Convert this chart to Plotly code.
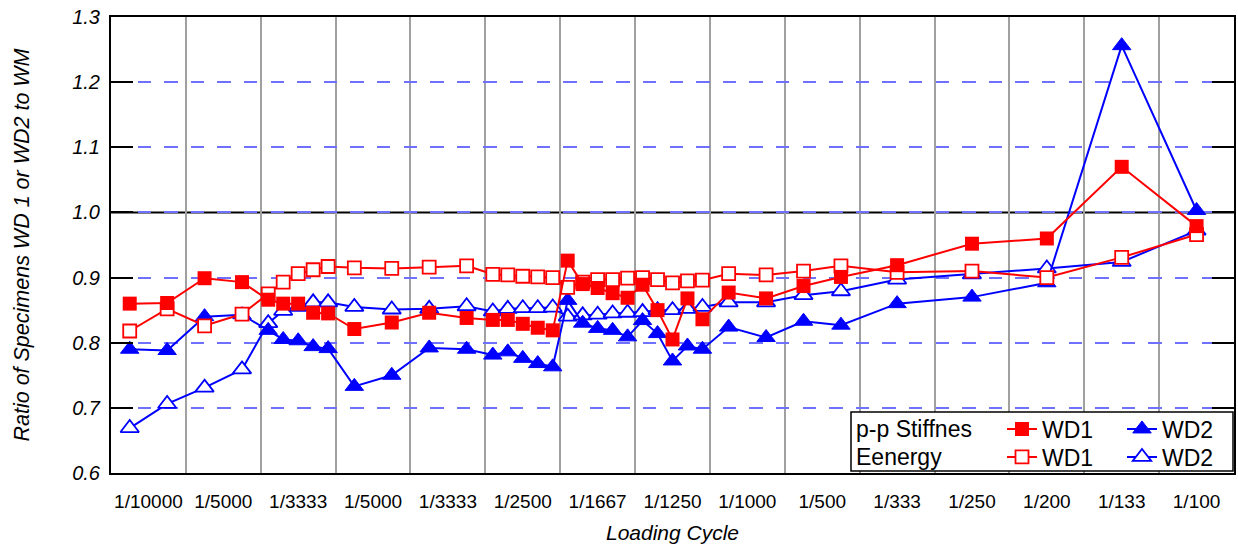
import plotly.graph_objects as go

# ---- data ----
cycle_labels = ["1/10000", "1/5000", "1/3333", "1/5000", "1/3333", "1/2500", "1/1667",
                "1/1250", "1/1000", "1/500", "1/333", "1/250", "1/200", "1/133", "1/100"]

x_pos = [-0.25, 0.25, 0.75, 1.25, 1.6, 1.8, 2.0, 2.2, 2.4, 2.75, 3.25, 3.75, 4.25,
         4.6, 4.8, 5.0, 5.2, 5.4, 5.6, 5.8, 6.0, 6.2, 6.4, 6.6, 6.8, 7.0, 7.2, 7.4,
         7.75, 8.25, 8.75, 9.25, 10, 11, 12, 13, 14]

wd1_stiff = [0.860, 0.861, 0.899, 0.893, 0.866, 0.860, 0.860, 0.846, 0.845, 0.821, 0.831,
             0.846, 0.838, 0.835, 0.835, 0.829, 0.823, 0.819, 0.926, 0.890, 0.884, 0.876,
             0.869, 0.889, 0.850, 0.805, 0.868, 0.836, 0.877, 0.868, 0.887, 0.901, 0.919,
             0.952, 0.960, 1.070, 0.979]

wd1_energy = [0.818, 0.852, 0.826, 0.844, 0.875, 0.893, 0.906, 0.912, 0.917, 0.915, 0.914,
              0.916, 0.918, 0.905, 0.904, 0.902, 0.901, 0.900, 0.885, 0.893, 0.897, 0.897,
              0.899, 0.900, 0.897, 0.892, 0.895, 0.896, 0.906, 0.904, 0.910, 0.918, 0.908,
              0.910, 0.900, 0.931, 0.966]

wd2_stiff = [0.790, 0.788, 0.840, 0.843, 0.819, 0.805, 0.803, 0.794, 0.791, 0.733, 0.750,
             0.792, 0.790, 0.781, 0.786, 0.776, 0.768, 0.763, 0.865, 0.830, 0.822, 0.819,
             0.809, 0.834, 0.814, 0.772, 0.795, 0.790, 0.824, 0.808, 0.833, 0.827, 0.860,
             0.870, 0.892, 1.256, 1.003]

wd2_energy = [0.669, 0.706, 0.731, 0.759, 0.830, 0.849, 0.855, 0.862, 0.862, 0.855, 0.851,
              0.852, 0.856, 0.848, 0.852, 0.853, 0.853, 0.854, 0.840, 0.842, 0.843, 0.845,
              0.846, 0.847, 0.850, 0.850, 0.852, 0.855, 0.862, 0.862, 0.873, 0.879, 0.897,
              0.905, 0.914, 0.924, 0.972]

y_ticks = [0.6, 0.7, 0.8, 0.9, 1.0, 1.1, 1.2, 1.3]

RED = "#ff0000"
BLUE = "#0000ff"
FONT = "Liberation Sans, Arial, sans-serif"

fig = go.Figure()

# draw order: WD2 energy, WD2 stiffness, WD1 energy, WD1 stiffness
fig.add_trace(go.Scatter(
    x=x_pos, y=wd2_energy, mode="lines+markers", name="WD2", legend="legend4",
    line=dict(color=BLUE, width=2),
    marker=dict(symbol="triangle-up", size=16, color="white", line=dict(color=BLUE, width=1.8))))
fig.add_trace(go.Scatter(
    x=x_pos, y=wd2_stiff, mode="lines+markers", name="WD2", legend="legend3",
    line=dict(color=BLUE, width=2),
    marker=dict(symbol="triangle-up", size=16, color=BLUE, line=dict(color=BLUE, width=1))))
fig.add_trace(go.Scatter(
    x=x_pos, y=wd1_energy, mode="lines+markers", name="WD1", legend="legend2",
    line=dict(color=RED, width=2),
    marker=dict(symbol="square", size=13, color="white", line=dict(color=RED, width=1.8))))
fig.add_trace(go.Scatter(
    x=x_pos, y=wd1_stiff, mode="lines+markers", name="WD1", legend="legend",
    line=dict(color=RED, width=2),
    marker=dict(symbol="square", size=14, color=RED, line=dict(color=RED, width=0))))

# plot area on screen: x 111..1234, y 17..473
W, H = 1238, 544
L, R, T, B = 111, 4, 17, 71
pw, ph = W - L - R, H - T - B


def px2x(px):  # screen px -> paper x
    return (px - L) / pw


def py2y(py):  # screen px -> paper y
    return (H - B - py) / ph


leg_common = dict(bgcolor="rgba(0,0,0,0)", borderwidth=0, xanchor="left", yanchor="middle",
                  font=dict(family=FONT, size=23, color="black"), itemclick=False)

row1, row2 = py2y(429), py2y(457)
col1, col2 = px2x(1002), px2x(1122)

fig.update_layout(
    width=W, height=H, autosize=False,
    margin=dict(l=L, r=R, t=T, b=B, pad=0, autoexpand=False),
    paper_bgcolor="white", plot_bgcolor="white",
    font=dict(family=FONT, color="black"),
    showlegend=True,
    legend=dict(x=col1, y=row1, **leg_common),
    legend2=dict(x=col1, y=row2, **leg_common),
    legend3=dict(x=col2, y=row1, **leg_common),
    legend4=dict(x=col2, y=row2, **leg_common),
    xaxis=dict(
        range=[-0.5, 14.5], tickmode="array", tickvals=list(range(len(cycle_labels))),
        ticktext=cycle_labels, ticks="", showgrid=False, zeroline=False, automargin=False,
        showline=True, linecolor="black", linewidth=2, mirror=True,
        tickfont=dict(family=FONT, size=19, color="black"), ticklabelstandoff=10,
        minor=dict(tickvals=[i + 0.5 for i in range(len(cycle_labels) - 1)], showgrid=True,
                   gridcolor="#a0a0a0", gridwidth=2, ticks=""),
        title=dict(text="Loading Cycle", standoff=17,
                   font=dict(family=FONT, size=21, color="black", style="italic")),
    ),
    yaxis=dict(
        range=[0.6, 1.3], tickmode="array", tickvals=y_ticks, tickformat=".1f",
        ticks="inside", ticklen=22, tickwidth=2, tickcolor="black", automargin=False,
        showline=True, linecolor="black", linewidth=2, mirror="ticks", zeroline=False,
        showgrid=True, gridcolor="#7070ff", gridwidth=1.5, griddash="13.3px,13.3px",
        tickfont=dict(family=FONT, size=20, color="black", style="italic"),
        ticklabelstandoff=5, ticklabeloverflow="allow",
        title=dict(text="Ratio of Specimens WD 1 or WD2 to WM", standoff=37,
                   font=dict(family=FONT, size=21.5, color="black", style="italic")),
    ),
    shapes=[
        dict(type="line", xref="paper", x0=0, x1=1, yref="y", y0=1.0, y1=1.0,
             line=dict(color="black", width=2), layer="between"),
        dict(type="rect", xref="paper", yref="paper",
             x0=px2x(851), x1=px2x(1233), y0=py2y(471), y1=py2y(412),
             fillcolor="white", line=dict(color="black", width=1.5), layer="above"),
    ],
    annotations=[
        dict(text="p-p Stiffnes", xref="paper", yref="paper", x=px2x(854), y=row1,
             xanchor="left", yanchor="middle", showarrow=False,
             font=dict(family=FONT, size=23, color="black")),
        dict(text="Eenergy", xref="paper", yref="paper", x=px2x(854), y=row2,
             xanchor="left", yanchor="middle", showarrow=False,
             font=dict(family=FONT, size=23, color="black")),
    ],
)

# remove the browser's default 8px body margin so the figure fills the window
fig.write_html("out.html", config={"displayModeBar": False},
               post_script="document.body.style.margin='0';")
